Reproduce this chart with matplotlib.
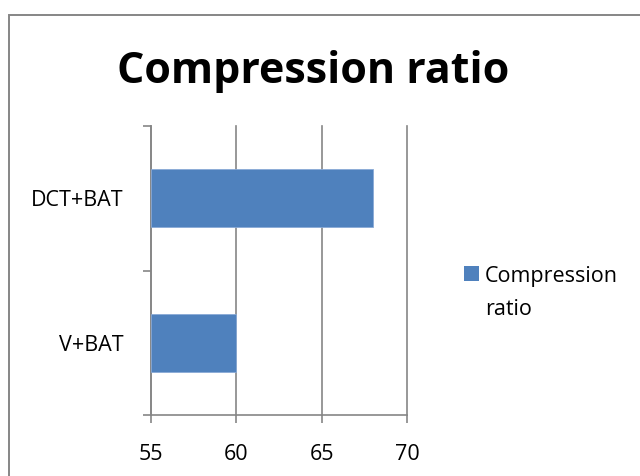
import matplotlib.pyplot as plt
from matplotlib.patches import Rectangle

categories = ["V+BAT", "DCT+BAT"]
values = [60, 68]
xticks = [55, 60, 65, 70]
series_name = "Compression ratio"
legend_label = "Compression\nratio"

bar_color = "#4F81BD"
line_color = "#868686"

plt.rcParams['font.family'] = ['Open Sans', 'DejaVu Sans']

fig = plt.figure(figsize=(6.4, 4.76), dpi=100)
W, H = 640, 476
ax = fig.add_axes([151 / W, 1 - 415 / H, 256 / W, 289 / H])

ypos = range(len(categories))
ax.barh(ypos, [v - 55 for v in values], left=55, height=0.4, color=bar_color,
        edgecolor="#8AAAD6", linewidth=0.6, zorder=3)

ax.set_xlim(55, 70)
ax.set_ylim(-0.5, 1.5)
ax.set_xticks(xticks)
ax.set_xticklabels([str(t) for t in xticks], fontsize=15.5)
# category boundaries get tick marks, category names sit between them
ax.set_yticks([-0.5, 0.5, 1.5])
ax.set_yticklabels([])
ax.set_yticks(list(ypos), minor=True)
ax.set_yticklabels(categories, minor=True, fontsize=15.5)
ax.tick_params(axis='y', which='minor', length=0, pad=20)
ax.tick_params(axis='y', which='major', length=6, color=line_color, width=1.2)
ax.tick_params(axis='x', length=6, color=line_color, width=1.2, pad=15)

ax.grid(axis='x', color=line_color, linewidth=1.2, zorder=0)
for gl in ax.get_xgridlines():
    gl.set_clip_on(False)
for side in ['top', 'right']:
    ax.spines[side].set_visible(False)
for side in ['left', 'bottom']:
    ax.spines[side].set_color(line_color)
    ax.spines[side].set_linewidth(1.2)

fig.text(313 / W, 1 - 83 / H, series_name, ha='center', va='baseline',
         fontsize=31, fontweight='bold')

# legend: colour square next to the first line of the label
fig.patches.append(Rectangle((464 / W, 1 - 281 / H), 15 / W, 15 / H,
                             transform=fig.transFigure, facecolor=bar_color,
                             edgecolor='none'))
for i, line in enumerate(legend_label.split("\n")):
    fig.text(485 / W, 1 - (282 + 33 * i) / H, line, ha='left', va='baseline',
             fontsize=15.5)

fig.patches.append(Rectangle((9 / W, -0.1), 1.2, 1 - 15 / H + 0.1,
                             transform=fig.transFigure, fill=False,
                             edgecolor=line_color, linewidth=1.4))

fig.savefig("out.png", dpi=100)
